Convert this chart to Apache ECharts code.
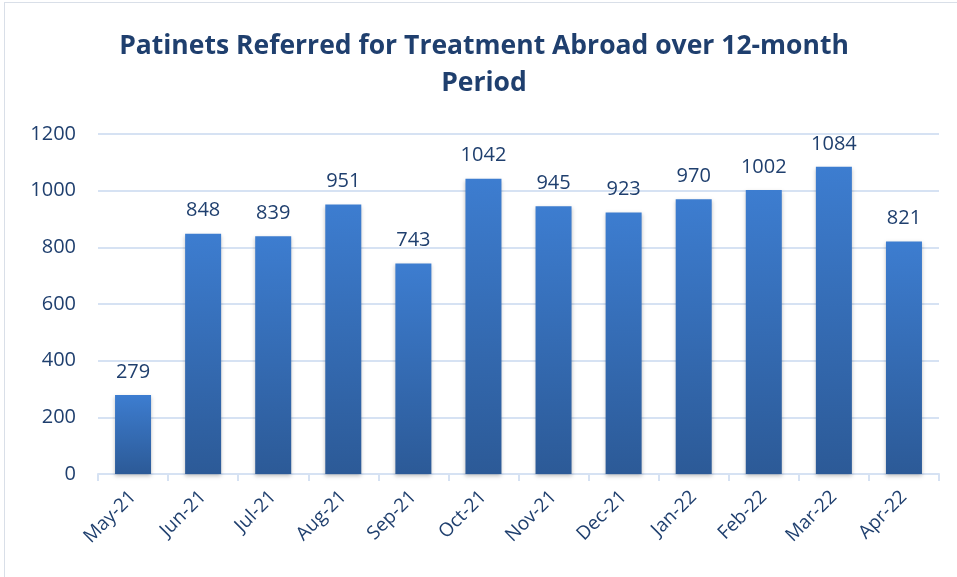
<!DOCTYPE html>
<html>
<head>
<meta charset="utf-8">
<script src="https://cdn.jsdelivr.net/npm/echarts@6/dist/echarts.min.js"></script>
<style>
  html, body { margin: 0; padding: 0; background: #fff; }
  #main { position: absolute; left: 4px; top: 2px; width: 960px; height: 580px; border: 1px solid #d9dfe8; box-sizing: border-box; }
</style>
</head>
<body>
<div id="main"></div>
<script>
// months on the x axis
const months = ['May-21', 'Jun-21', 'Jul-21', 'Aug-21', 'Sep-21', 'Oct-21',
  'Nov-21', 'Dec-21', 'Jan-22', 'Feb-22', 'Mar-22', 'Apr-22']
// patients referred each month
const patients = [279, 848, 839, 951, 743, 1042, 945, 923, 970, 1002, 1084, 821]

const textColor = '#1f3f6e'
const lineColor = '#d6e2f3'

const chart = echarts.init(document.getElementById('main'))

chart.setOption({
  animation: false,
  title: {
    text: 'Patinets Referred for Treatment Abroad over 12-month\nPeriod',
    left: 'center',
    top: 20,
    textStyle: {
      fontFamily: 'Open Sans',
      fontWeight: 'bold',
      fontSize: 26.5,
      lineHeight: 37,
      color: '#1f3f6e'
    }
  },
  grid: { left: 93, right: 24, top: 131, bottom: 107 },
  xAxis: {
    type: 'category',
    data: months,
    axisLine: { lineStyle: { color: lineColor, width: 2 } },
    axisTick: { show: true, alignWithLabel: false, length: 7, lineStyle: { color: lineColor, width: 2 } },
    axisLabel: {
      rotate: 45,
      interval: 0,
      margin: 20,
      color: textColor,
      fontFamily: 'Open Sans',
      fontSize: 19
    }
  },
  yAxis: {
    type: 'value',
    min: 0,
    max: 1200,
    interval: 200,
    axisLine: { show: false },
    axisTick: { show: false },
    splitLine: { lineStyle: { color: lineColor, width: 2 } },
    axisLabel: {
      margin: 22,
      color: textColor,
      fontFamily: 'Open Sans',
      fontSize: 20,
      formatter: v => String(v)
    }
  },
  series: [{
    type: 'bar',
    data: patients,
    barWidth: 36,
    itemStyle: {
      color: new echarts.graphic.LinearGradient(0, 0, 0, 1, [
        { offset: 0, color: '#3d7dd0' },
        { offset: 1, color: '#2c5a97' }
      ]),
      shadowColor: 'rgba(0,0,0,0.25)',
      shadowBlur: 4,
      shadowOffsetY: 2
    },
    label: {
      show: true,
      position: 'top',
      distance: 13,
      color: textColor,
      fontFamily: 'Open Sans',
      fontSize: 20
    }
  }]
})
</script>
</body>
</html>
